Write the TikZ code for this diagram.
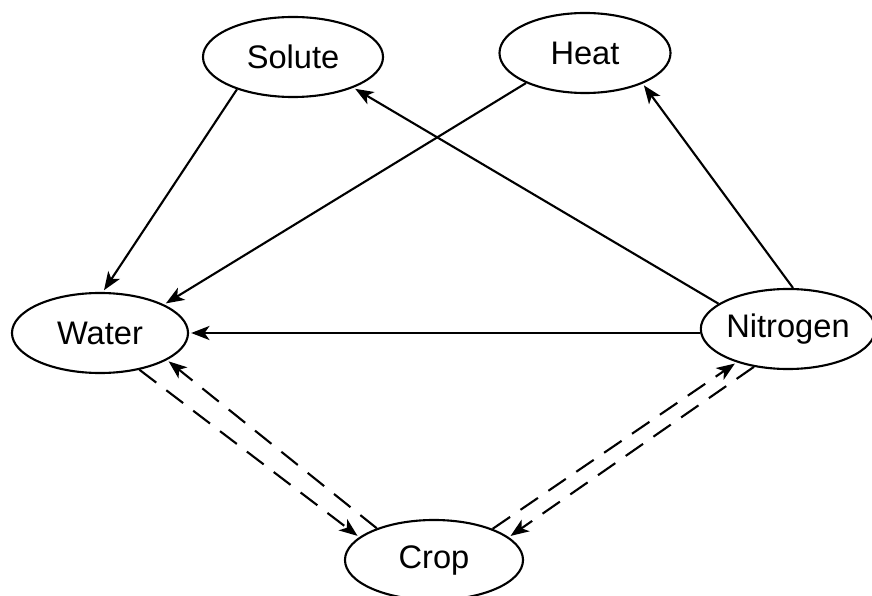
\documentclass[tikz,border=0pt]{standalone}
\usepackage{fontspec}
\setmainfont{Liberation Sans}
\usetikzlibrary{shapes.geometric, arrows.meta}

\begin{document}
\begin{tikzpicture}[
        x=0.025cm, y=-0.025cm,
        module/.style={ellipse, draw, line width=1.5pt, inner sep=0pt,
            minimum height=2cm, font=\fontsize{23.2}{28}\selectfont},
        flow/.style={line width=1.5pt, shorten >=1.5pt,
            -{Stealth[length=13pt, width=10pt, inset=3.5pt]}},
        feedback/.style={flow, dash pattern=on 15pt off 9pt}
    ]

        % Page frame
        \useasboundingbox (0,0) rectangle (872,596);

        % Modules
        \node[module, minimum width=4.5cm]   (solute)   at (293,57)  {Solute};
        \node[module, minimum width=4.275cm] (heat)     at (585,53)  {Heat};
        \node[module, minimum width=4.4cm]   (water)    at (100,333) {Water};
        \node[module, minimum width=4.15cm]  (nitrogen) at (788,329) {Nitrogen};
        \node[module, minimum width=4.45cm]  (crop)     at (434,560) {Crop};

        % One-way couplings
        \draw[flow] (solute.210) -- (water.86);
        \draw[flow] (heat.207) -- (water.24);
        \draw[flow] (nitrogen.160) -- (solute.333);
        \draw[flow] (nitrogen.83) -- (heat.332);
        \draw[flow] (water.east -| nitrogen.west) -- (water.east);

        % Two-way couplings with the crop (dashed)
        \draw[feedback] (water.317) -- (crop.163);
        \draw[feedback] (crop.151) -- (water.338);
        \draw[feedback] (crop.28) -- (nitrogen.213);
        \draw[feedback] (nitrogen.228) -- (crop.17);

    \end{tikzpicture}
\end{document}
